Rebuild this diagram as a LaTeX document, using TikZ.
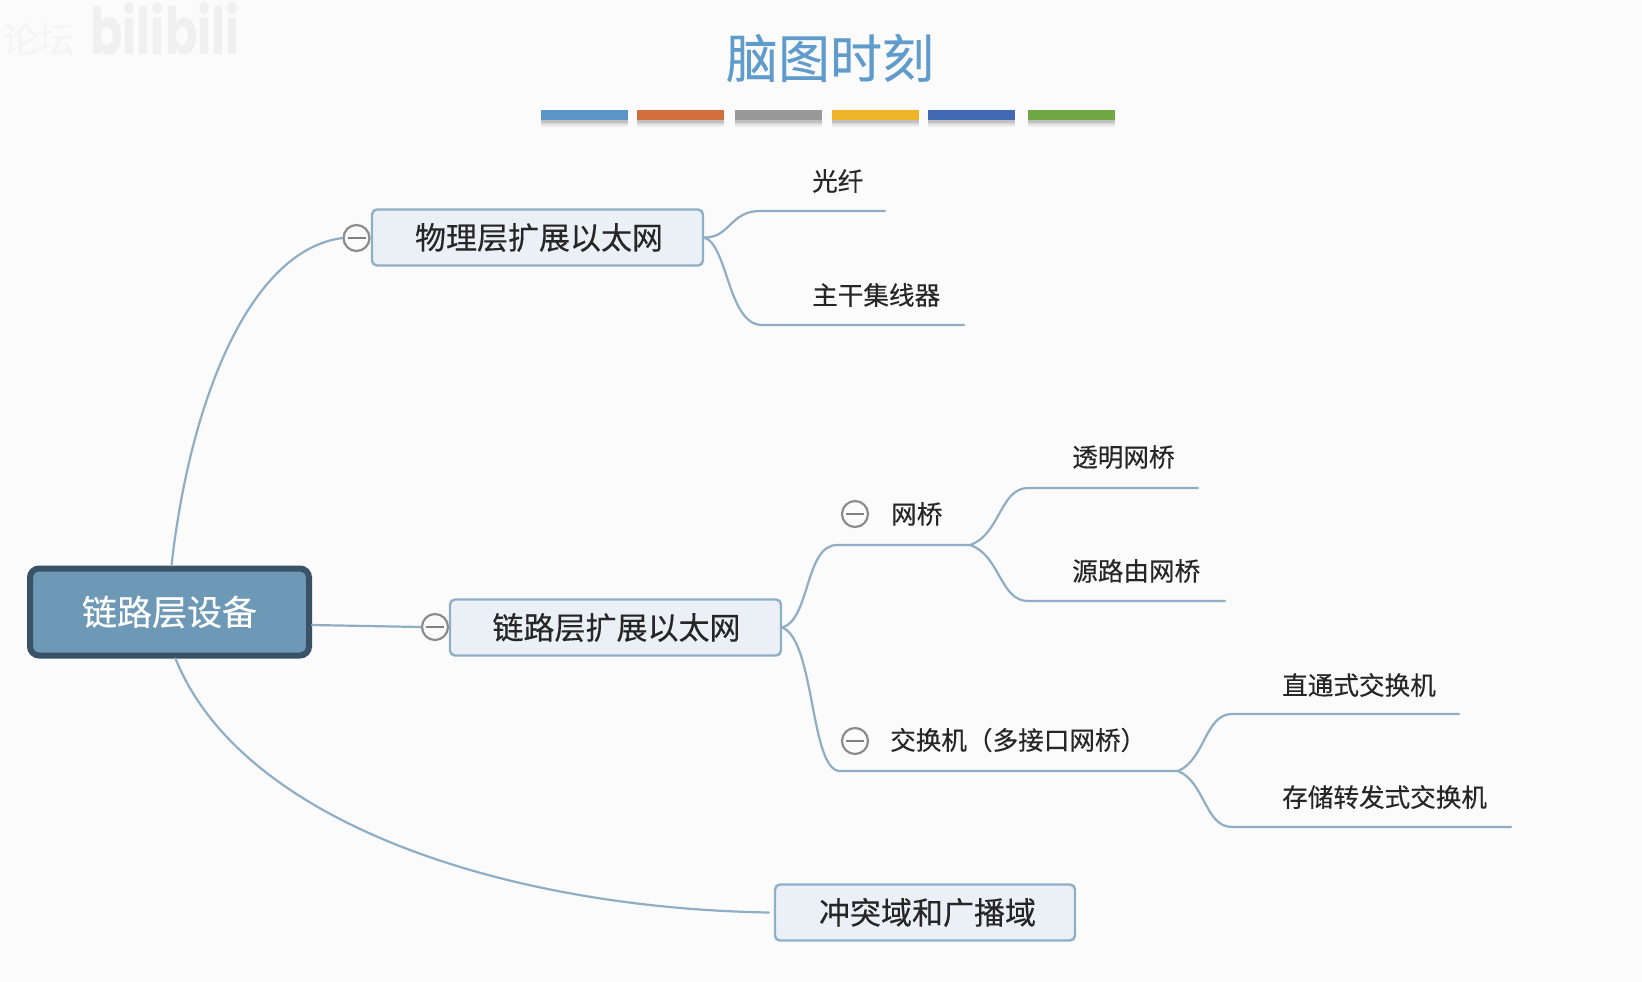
\documentclass[tikz,border=0pt]{standalone}
\usepackage{fontspec}
\setmainfont[FakeBold=0.3]{Noto Sans CJK SC}
\newfontfamily\wmfont{Poppins}
\usetikzlibrary{calc}
\definecolor{paper}{HTML}{FBFBFC}
\definecolor{linkblue}{HTML}{8FAEC4}
\definecolor{topicedge}{HTML}{8FAFC6}
\definecolor{topicfill}{HTML}{EBF0F6}
\definecolor{rootfill}{HTML}{6E99B6}
\definecolor{rootedge}{HTML}{3A5266}
\definecolor{inkdark}{HTML}{262626}
\definecolor{titleblue}{HTML}{5F9BCB}
\definecolor{barA}{HTML}{5B95C8}
\definecolor{barB}{HTML}{D26E3C}
\definecolor{barC}{HTML}{999999}
\definecolor{barD}{HTML}{F0B429}
\definecolor{barE}{HTML}{4169B4}
\definecolor{barF}{HTML}{70A845}
\newcommand{\pxfont}[1]{\fontsize{#1}{#1}\selectfont}
\tikzset{
  x=1pt,y=-1pt,
  link/.style={draw=linkblue,line width=2.2pt,line cap=round},
  roottopic/.style={draw=rootedge,fill=rootfill,line width=6pt,rounded corners=9pt,
    minimum width=279pt,minimum height=87pt,inner sep=0pt,text=white,font=\pxfont{35}},
  topic/.style={draw=topicedge,fill=topicfill,line width=2.4pt,rounded corners=5pt,
    minimum height=56pt,inner sep=0pt,text=inkdark,font=\pxfont{31}},
  leaf/.style={inner sep=0pt,anchor=west,text=inkdark,font=\pxfont{25.6}},
  fold/.style={circle,draw=black!45,fill=paper,line width=2.2pt,minimum size=26pt,inner sep=0pt,
    path picture={\draw[black!50,line width=2.2pt]
      ($(path picture bounding box.center)+(-9,0)$) -- ($(path picture bounding box.center)+(9,0)$);}},
  colorbar/.style={minimum width=87pt,minimum height=10pt,inner sep=0pt,fill=#1,
    preaction={fill=black,opacity=.05,transform canvas={yshift=-7pt}},
    preaction={fill=black,opacity=.08,transform canvas={yshift=-5pt}},
    preaction={fill=black,opacity=.12,transform canvas={yshift=-2.5pt}}},
}
\begin{document}
\begin{tikzpicture}
  \path[use as bounding box,fill=paper] (0,0) rectangle (1642,982);

  % faint corner marks
  \node[inner sep=0pt,text=black!4,font=\pxfont{36}] (wmcn) at (38,39) {论坛};
  \node[inner sep=0pt,text=black!6,font=\wmfont\bfseries\pxfont{50}] (wmlat) at (165,29) {\scalebox{.95}[1.3]{bilibili}};

  % heading and colour strip
  \node[inner sep=0pt,text=titleblue,font=\pxfont{52}] (title) at (830,58) {脑图时刻};
  \node[colorbar=barA] (b1) at (584,115) {};
  \node[colorbar=barB] (b2) at (680,115) {};
  \node[colorbar=barC] (b3) at (778,115) {};
  \node[colorbar=barD] (b4) at (875,115) {};
  \node[colorbar=barE] (b5) at (971,115) {};
  \node[colorbar=barF] (b6) at (1071,115) {};

  % main topics
  \node[roottopic] (root) at (169.5,612) {链路层设备};
  \node[topic,minimum width=331pt] (phys) at (537.5,237.5) {\hspace{3pt}物理层扩展以太网};
  \node[topic,minimum width=331pt] (dlink) at (615.5,627.5) {\hspace{2pt}链路层扩展以太网};
  \node[topic,minimum width=300pt] (domain) at (925,912.5) {\hspace{5pt}冲突域和广播域};

  % fold markers
  \node[fold] (fphys) at (356.5,238) {};
  \node[fold] (fdlink) at (435,627) {};
  \node[fold] (fbridge) at (855,514) {};
  \node[fold] (fswitch) at (855,741) {};

  % labels of the branches
  \node[leaf] (fiber) at (812,181) {光纤};
  \node[leaf] (hub) at (812,295) {主干集线器};
  \node[leaf] (bridge) at (891,514) {网桥};
  \node[leaf] (switch) at (890,740) {交换机（多接口网桥）};
  \node[leaf] (tbridge) at (1072,457) {透明网桥};
  \node[leaf] (srbridge) at (1072,571) {源路由网桥};
  \node[leaf] (cutsw) at (1282,685) {直通式交换机};
  \node[leaf] (sfsw) at (1282,797) {存储转发式交换机};

  % fork points and line ends
  \coordinate (fiberA) at (760,211);  \coordinate (fiberB) at (885,211);
  \coordinate (hubA) at (762,325);    \coordinate (hubB) at (964,325);
  \coordinate (brA) at (837,545);     \coordinate (brB) at (970,545);
  \coordinate (swA) at (840,771);     \coordinate (swB) at (1178,771);
  \coordinate (tbA) at (1028,488);    \coordinate (tbB) at (1198,488);
  \coordinate (srA) at (1028,601);    \coordinate (srB) at (1225,601);
  \coordinate (csA) at (1232,714);    \coordinate (csB) at (1459,714);
  \coordinate (sfA) at (1232,827);    \coordinate (sfB) at (1511,827);

  % connectors from the central topic
  \draw[link] ($(root.north)+(2,0)$) .. controls (190,400) and (250,250) .. (fphys.west);
  \draw[link] ($(root.east)+(0,13)$) -- (fdlink.west);
  \draw[link] ($(root.south)+(6,0)$) .. controls (240,820) and (500,908) .. ($(domain.west)+(-5,0)$);

  % physical layer branches
  \draw[link] (phys.east) .. controls (730,238) and (730,211) .. (fiberA) -- (fiberB);
  \draw[link] (phys.east) .. controls (728,245) and (728,325) .. (hubA) -- (hubB);

  % data link layer branches
  \draw[link] (dlink.east) .. controls (810,620) and (805,545) .. (brA) -- (brB);
  \draw[link] (dlink.east) .. controls (815,640) and (810,771) .. (swA) -- (swB);

  % bridge and switch forks
  \draw[link] (brB) .. controls (1000,535) and (1000,488) .. (tbA) -- (tbB);
  \draw[link] (brB) .. controls (1000,555) and (1000,601) .. (srA) -- (srB);
  \draw[link] (swB) .. controls (1205,760) and (1205,714) .. (csA) -- (csB);
  \draw[link] (swB) .. controls (1205,782) and (1205,827) .. (sfA) -- (sfB);
\end{tikzpicture}
\end{document}
